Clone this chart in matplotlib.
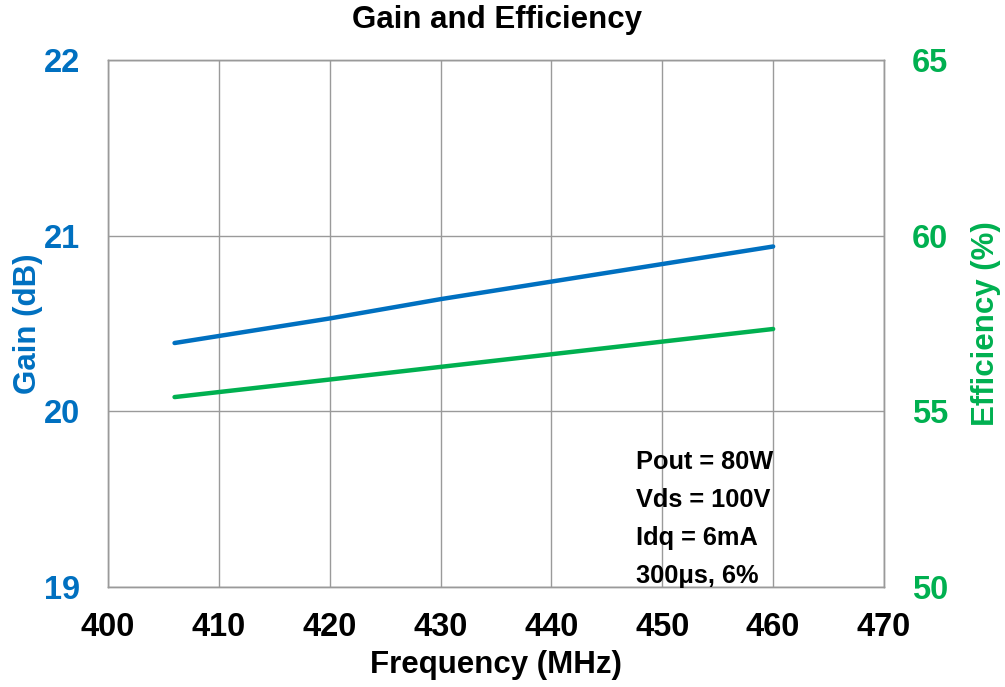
import matplotlib.pyplot as plt

# Data
freq = [406, 420, 430, 440, 450, 460]
gain_db = [20.39, 20.53, 20.64, 20.74, 20.84, 20.94]
efficiency = [55.41, 55.91, 56.27, 56.63, 56.99, 57.35]

x_ticks = [400, 410, 420, 430, 440, 450, 460, 470]
gain_ticks = [19, 20, 21, 22]
eff_ticks = [50, 55, 60, 65]
notes = ["Pout = 80W", "Vds = 100V", "Idq = 6mA", "300\u03bcs, 6%"]

BLUE = "#0070C0"
GREEN = "#00B050"
GRID = "#9a9a9a"

plt.rcParams['font.family'] = ['Liberation Sans', 'DejaVu Sans']
plt.rcParams['font.weight'] = 'bold'

W, H = 1005, 687
fig = plt.figure(figsize=(W / 100, H / 100), dpi=100)
ax = fig.add_axes([0.1075, 0.1456, 0.7721, 0.7664])
ax2 = ax.twinx()

ax.plot(freq, gain_db, color=BLUE, lw=3.2, solid_capstyle='round')
ax2.plot(freq, efficiency, color=GREEN, lw=3.2, solid_capstyle='round')

ax.set_xlim(400, 470)
ax.set_ylim(19, 22)
ax2.set_ylim(50, 65)
ax.set_xticks(x_ticks)
ax.set_yticks(gain_ticks)
ax2.set_yticks(eff_ticks)

ax.grid(True, color=GRID, lw=1.0)
ax.set_axisbelow(True)

for a in (ax, ax2):
    for s in a.spines.values():
        s.set_color(GRID)
        s.set_linewidth(1.0)

ax.tick_params(axis='x', length=0, pad=18, labelsize=23.5, labelcolor='black')
ax.tick_params(axis='y', length=0, pad=20, labelsize=23.5, labelcolor=BLUE)
ax2.tick_params(axis='y', length=0, pad=20, labelsize=23.5, labelcolor=GREEN)
for lab in ax.get_xticklabels() + ax.get_yticklabels() + ax2.get_yticklabels():
    lab.set_fontweight('bold')

ax.set_xlabel("Frequency (MHz)", fontsize=22.5, fontweight='bold', va='center')
ax.xaxis.set_label_coords((496 - 108) / 776, -(665 - 587) / 527)
ax.set_ylabel("Gain (dB)", fontsize=22.5, fontweight='bold', color=BLUE, va='center')
ax.yaxis.set_label_coords(-(108 - 28) / 776, 0.5)
ax2.set_ylabel("Efficiency (%)", fontsize=22.5, fontweight='bold', color=GREEN,
               va='center', rotation=90)
ax2.yaxis.set_label_coords(1 + (986 - 884) / 776, 0.5)

fig.text(497 / W, 1 - 20 / H, "Gain and Efficiency", fontsize=22.5,
         fontweight='bold', ha='center', va='center')

for i, t in enumerate(notes):
    fig.text(636 / W, 1 - (462 + 38 * i) / H, t, fontsize=18.3,
             fontweight='bold', ha='left', va='center')

fig.savefig("out.png", dpi=100)
